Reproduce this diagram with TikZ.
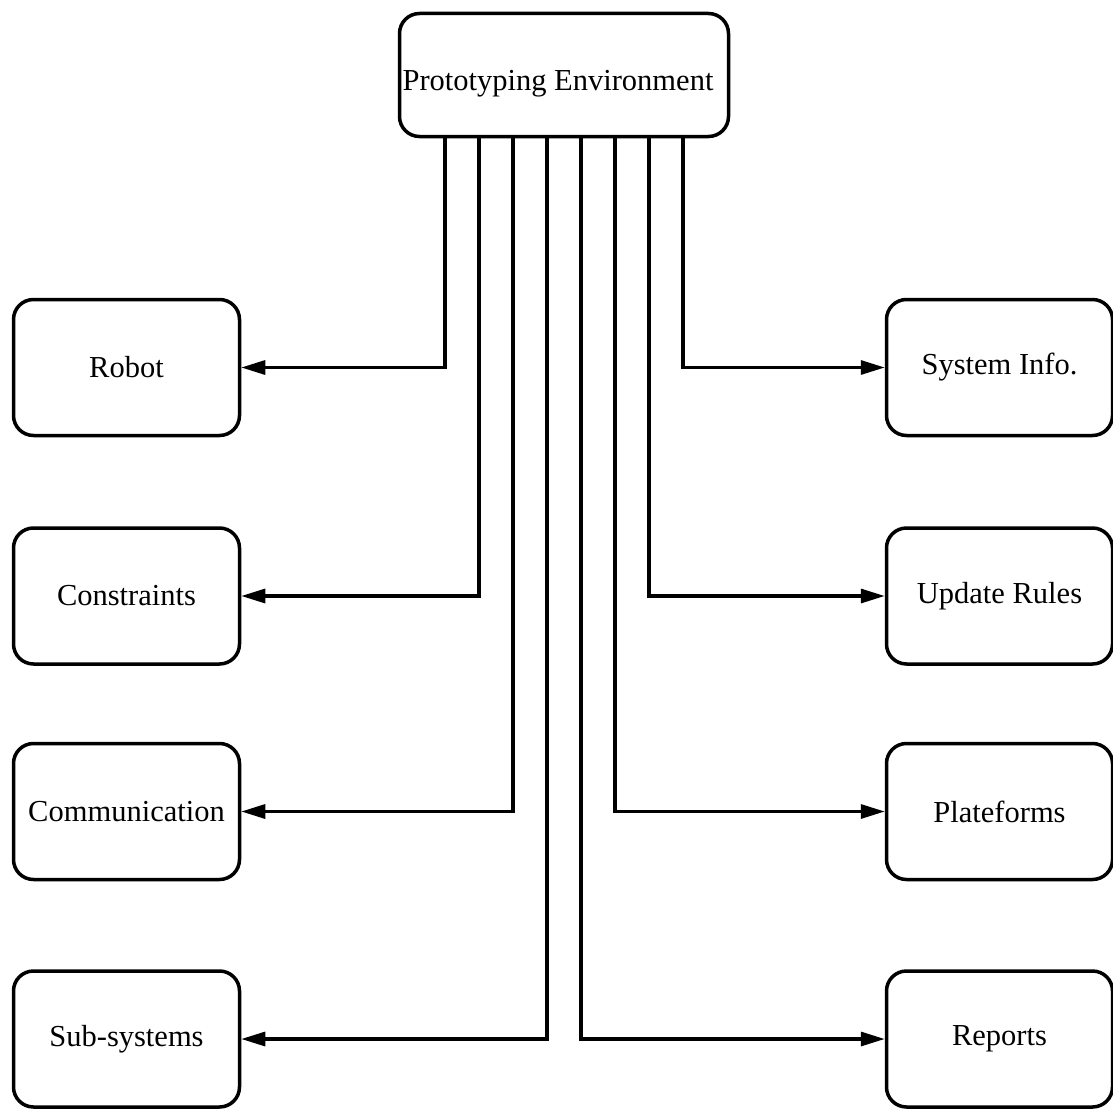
\documentclass[tikz,border=0pt]{standalone}
\usepackage{fontspec}
\setmainfont{Liberation Serif}
\usetikzlibrary{arrows.meta}
\begin{document}
\begin{tikzpicture}[x=1pt,y=-1pt,
  box/.style={draw, line width=3.5pt, rounded corners=20pt, inner sep=0pt,
    font=\fontsize{30.5}{36}\selectfont},
  sidebox/.style={box, minimum width=226pt, minimum height=136pt},
  link/.style={line width=3.2pt, -{Triangle[length=24pt,width=14pt]}}]
  \useasboundingbox (0,0) rectangle (1113,1108);

  \node[box, minimum width=329pt, minimum height=123pt] (env) at (564,75) {};
  \node[font=\fontsize{30.5}{36}\selectfont, inner sep=0pt] (envtext) at (558,84) {Prototyping Environment};

  \node[sidebox] (robot) at (126.5,367.5) {Robot};
  \node[sidebox] (cons)  at (126.5,596)   {Constraints};
  \node[sidebox] (comm)  at (126.5,811.5) {Communication};
  \node[sidebox] (sub)   at (126.5,1039)  {Sub-systems};

  \node[sidebox] (info)  at (999.5,367.5) {System Info.};
  \node[sidebox] (upd)   at (999.5,596)   {Update Rules};
  \node[sidebox] (plat)  at (999.5,811.5) {Plateforms};
  \node[sidebox] (rep)   at (999.5,1039)  {Reports};

  % bus lines leaving the environment box
  \draw[link] ([xshift=-119pt]env.south) |- (robot.east);
  \draw[link] ([xshift=-85pt]env.south)  |- (cons.east);
  \draw[link] ([xshift=-51pt]env.south)  |- (comm.east);
  \draw[link] ([xshift=-17pt]env.south)  |- (sub.east);
  \draw[link] ([xshift=17pt]env.south)   |- (rep.west);
  \draw[link] ([xshift=51pt]env.south)   |- (plat.west);
  \draw[link] ([xshift=85pt]env.south)   |- (upd.west);
  \draw[link] ([xshift=119pt]env.south)  |- (info.west);
\end{tikzpicture}
\end{document}
